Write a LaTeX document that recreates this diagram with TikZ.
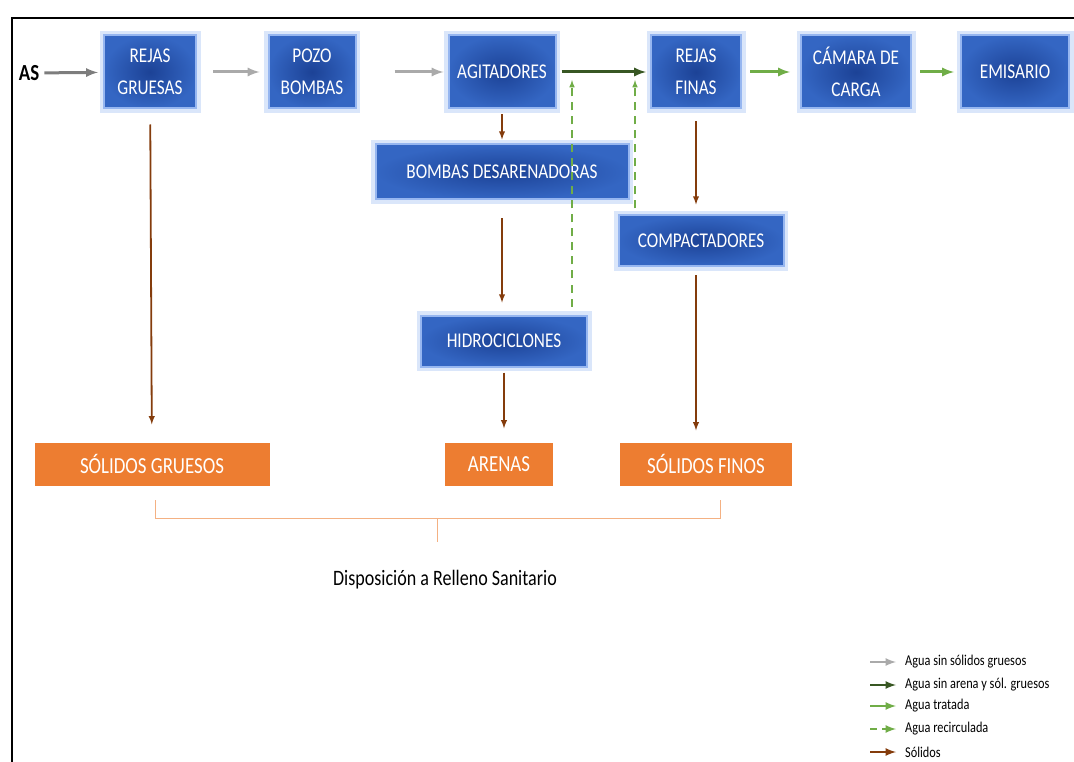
\documentclass[tikz,border=0pt]{standalone}
\usepackage{fontspec}
\setmainfont{Carlito}[FakeStretch=0.82]
\usetikzlibrary{positioning}
\definecolor{cajaazul}{RGB}{52,102,195}
\definecolor{cajaazuloscuro}{RGB}{28,66,150}
\definecolor{brillo}{RGB}{150,182,240}
\definecolor{naranja}{RGB}{237,125,49}
\definecolor{naranjaclaro}{RGB}{244,177,131}
\definecolor{grisclaro}{RGB}{170,170,170}
\definecolor{grisoscuro}{RGB}{125,125,125}
\definecolor{verdeoscuro}{RGB}{56,87,35}
\definecolor{verdeclaro}{RGB}{112,173,71}
\definecolor{cafe}{RGB}{132,60,12}

\begin{document}
\begin{tikzpicture}[x=1pt, y=-1pt,
    proceso/.style={draw=brillo, line width=2pt, inner color=cajaazuloscuro, outer color=cajaazul,
      preaction={draw=brillo, line width=9pt, opacity=0.35},
      text=white, align=center, font=\fontsize{21}{32}\selectfont, inner sep=0pt},
    residuo/.style={fill=naranja, text=white, font=\fontsize{23}{26}\selectfont,
      minimum height=43pt, inner sep=0pt},
    leyenda/.style={anchor=west, font=\fontsize{15}{17}\selectfont, inner sep=0pt},
    flecha/.style={line width=3pt, ->, >=latex},
    gris/.style={flecha, color=grisclaro},
    verdeosc/.style={flecha, color=verdeoscuro},
    verdecl/.style={flecha, color=verdeclaro},
    recirc/.style={flecha, color=verdeclaro, line width=1.5pt, dash pattern=on 8pt off 6pt},
    solidos/.style={flecha, color=cafe, line width=1.8pt},
    llave/.style={draw=naranjaclaro, line width=1pt}
  ]
    \useasboundingbox (0,0) rectangle (1074,762);

    % marco
    \draw [line width=2pt] (12,762) -- (12,18) -- (1074,18);

    % linea de agua
    \node [font=\fontsize{23}{26}\selectfont\bfseries, inner sep=0pt] (as) at (29,73) {AS};
    \node [proceso, minimum width=92pt, minimum height=73pt] (rejasg) at (150,72) {REJAS\\GRUESAS};
    \node [proceso, minimum width=87pt, minimum height=73pt] (pozo) at (312,72) {POZO\\BOMBAS};
    \node [proceso, minimum width=107pt, minimum height=73pt] (agit) at (502,72) {AGITADORES};
    \node [proceso, minimum width=90pt, minimum height=73pt] (rejasf) at (696,72) {REJAS\\FINAS};
    \node [proceso, minimum width=110pt, minimum height=73pt] (camara) at (856,72) {CÁMARA DE\\CARGA};
    \node [proceso, minimum width=108pt, minimum height=73pt] (emis) at (1015,72) {EMISARIO};

    % tratamiento de solidos
    \node [proceso, minimum width=253pt, minimum height=55pt] (bombas) at (502,172) {BOMBAS DESARENADORAS};
    \node [proceso, minimum width=165pt, minimum height=51pt] (compact) at (701,241) {COMPACTADORES};
    \node [proceso, minimum width=166pt, minimum height=51pt] (hidro) at (504,341) {HIDROCICLONES};

    \node [residuo, minimum width=235pt] (solg) at (152,464) {SÓLIDOS GRUESOS};
    \node [residuo, minimum width=108pt] (arenas) at (499,464) {ARENAS};
    \node [residuo, minimum width=172pt] (solf) at (706,464) {SÓLIDOS FINOS};

    \node [font=\fontsize{22}{24}\selectfont, inner sep=0pt] (disp) at (445,580) {Disposición a Relleno Sanitario};

    % flechas de agua
    \draw [flecha, color=grisoscuro, shorten <=5pt, shorten >=5pt] (as) -- (rejasg);
    \draw [gris, shorten <=16pt, shorten >=8pt] (rejasg) -- (pozo);
    \draw [gris, shorten <=38pt, shorten >=4pt] (pozo) -- (agit);
    \draw [verdeosc, shorten <=5pt, shorten >=4pt] (agit) -- (rejasf);
    \draw [verdecl, shorten <=8pt, shorten >=10pt] (rejasf) -- (camara);
    \draw [verdecl, shorten <=8pt, shorten >=6pt] (camara) -- (emis);

    % flechas de solidos
    \draw [solidos, shorten <=15pt, shorten >=18pt] (rejasg) -- (solg);
    \draw [solidos, shorten <=5pt, shorten >=4pt] (agit) -- (bombas);
    \draw [solidos, shorten <=18pt, shorten >=12pt] (bombas.south) -- (hidro.north -| bombas.south);
    \draw [solidos, shorten <=5pt, shorten >=14pt] (hidro) -- (hidro |- arenas.north);
    \draw [solidos, shorten <=12pt, shorten >=10pt] (rejasf) -- (rejasf |- compact.north);
    \draw [solidos, shorten <=8pt, shorten >=12pt] (rejasf |- compact.south) -- (rejasf |- solf.north);

    % recirculacion
    \coordinate (r1) at (572,80);
    \coordinate (r2) at (635,80);
    \draw [recirc, shorten <=8pt] (hidro.north -| r1) -- (r1);
    \draw [recirc, shorten <=6pt] (compact.north -| r2) -- (r2);

    % llave
    \coordinate (punta) at (437,542);
    \draw [llave] (155,500) -- (155,518) -- (720,518) -- (720,500);
    \draw [llave] (punta |- 0,518) -- (punta);

    % leyenda
    \foreach \y/\estilo/\texto [count=\i] in {
        662/gris/Agua sin sólidos gruesos,
        685/verdeosc/Agua sin arena y sól. gruesos,
        706/verdecl/Agua tratada,
        729/recirc/Agua recirculada,
        752/solidos/Sólidos} {
      \node [leyenda] (ley\i) at (905,\y) {\texto};
      \coordinate (ini\i) at (870,\y);
      \draw [\estilo, line width=2.5pt, dash pattern=on 8pt off 0pt, shorten >=9pt] (ini\i) -- (ley\i.west);
    }
    \draw [white, line width=4pt] (ini4) ++(7,0) -- ++(5,0);
\end{tikzpicture}
\end{document}
